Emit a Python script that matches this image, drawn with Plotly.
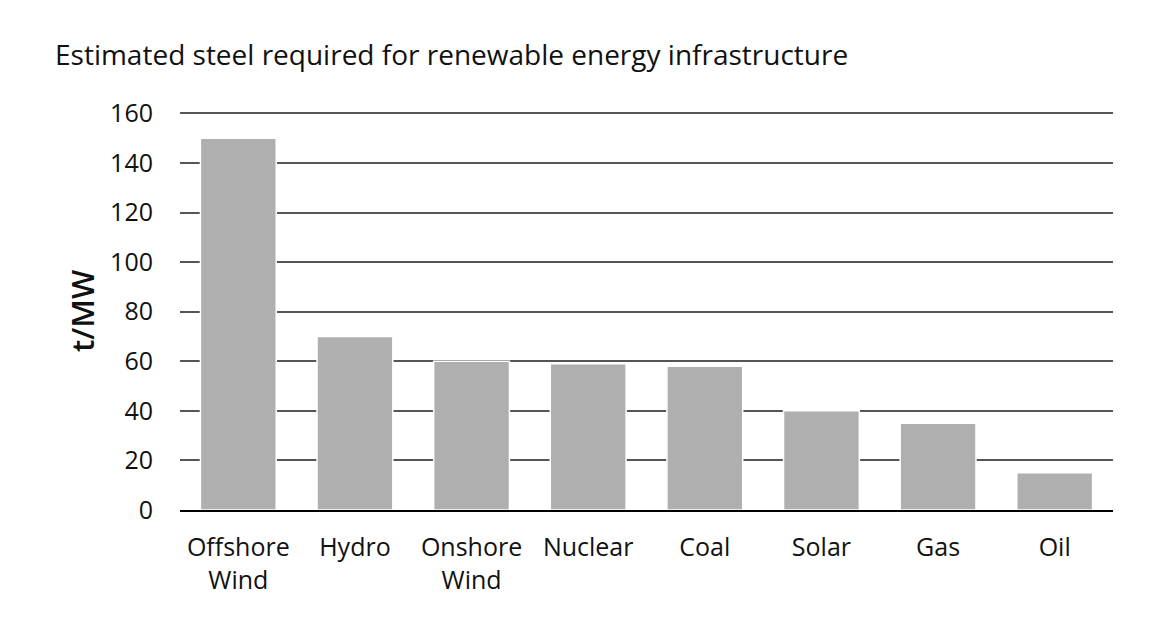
import plotly.graph_objects as go

categories = ["Offshore<br>Wind", "Hydro", "Onshore<br>Wind", "Nuclear", "Coal", "Solar", "Gas", "Oil"]
values = [150, 70, 60, 59, 58, 40, 35, 15]
y_ticks = [0, 20, 40, 60, 80, 100, 120, 140, 160]

fig = go.Figure(go.Bar(
    x=categories, y=values,
    marker=dict(color="#AFAFAF", line=dict(color="white", width=1.5)),
))

font = "'Open Sans', sans-serif"
txt = "#111111"
fig.update_layout(
    width=1162, height=626,
    paper_bgcolor="white", plot_bgcolor="white",
    margin=dict(l=172, r=57, t=104, b=124),
    bargap=0.35,
    showlegend=False,
    title=dict(text="Estimated steel required for renewable energy infrastructure",
               x=47/1162, xanchor="left", y=1-47/626, yanchor="middle",
               font=dict(family=font, size=28, color=txt)),
    xaxis=dict(showgrid=False, showline=True, linecolor="black", linewidth=2,
               ticks="", ticklabelstandoff=14,
               tickfont=dict(family=font, size=25, color=txt)),
    yaxis=dict(range=[0, 160.6], tickvals=y_ticks, showgrid=True, gridcolor="#555555",
               gridwidth=1.5, zeroline=False, showline=False, ticks="",
               ticklabelstandoff=26,
               tickfont=dict(family=font, size=25, color=txt)),
)
fig.add_annotation(text="t/MW", xref="paper", yref="paper", x=-0.105, y=0.5,
                   textangle=-90, showarrow=False, xanchor="center", yanchor="middle",
                   font=dict(family=font, size=31, color=txt, weight=600))

fig.write_html("out.html")
